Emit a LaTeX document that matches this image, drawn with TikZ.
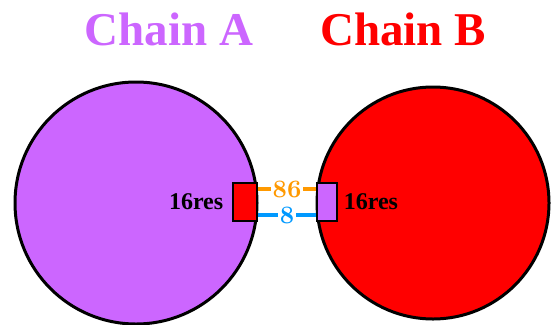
\documentclass[tikz,border=0pt]{standalone}
\usepackage{fontspec}
\newfontfamily\titlefont{Liberation Serif}
\usetikzlibrary{positioning}
\definecolor{chainpurple}{RGB}{204,102,255}
\definecolor{chainred}{RGB}{255,0,0}
\definecolor{bondorange}{RGB}{255,153,0}
\definecolor{bondblue}{RGB}{0,153,255}
% old style digits from the math italic font
\newcommand{\osnum}[1]{{\fontencoding{OML}\fontfamily{cmm}\fontseries{b}\fontshape{it}\selectfont #1}}

\begin{document}
\begin{tikzpicture}[x=1pt, y=-1pt,
    chain/.style={circle, draw=black, line width=3pt, inner sep=0pt},
    site/.style={draw=black, line width=2.5pt, minimum height=38pt, inner sep=0pt},
    bond/.style={line width=4pt},
    bondlabel/.style={fill=white, inner sep=2pt, font=\bfseries\fontsize{23}{24}\selectfont},
    reslabel/.style={font=\titlefont\bfseries\fontsize{24}{26}\selectfont},
    title/.style={anchor=base, font=\titlefont\bfseries\fontsize{47}{50}\selectfont}]
  \useasboundingbox (0,0) rectangle (553,324);
  % the two chains
  \node[chain, fill=chainpurple, minimum size=242pt] (chainA) at (136,203) {};
  \node[chain, fill=chainred, minimum size=232pt] (chainB) at (433,203) {};
  \node[title, text=chainpurple] (titleA) at (169,45) {Chain A};
  \node[title, text=chainred] (titleB) at (403,45) {Chain B};
  % contact sites
  \node[site, fill=chainred, minimum width=24pt] (siteA) at (245,202) {};
  \node[site, fill=chainpurple, minimum width=20pt] (siteB) at (327,202) {};
  \node[reslabel, left=5pt of siteA] (resA) {16res};
  \node[reslabel, right=2pt of siteB] (resB) {16res};
  % bonds between the sites
  \draw[bond, bondorange] ([yshift=13pt]siteA.east) -- node[bondlabel, text=bondorange] (orangeLbl) {\osnum{86}} ([yshift=13pt]siteB.west);
  \draw[bond, bondblue] ([yshift=-13pt]siteA.east) -- node[bondlabel, text=bondblue] (blueLbl) {\osnum{8}} ([yshift=-13pt]siteB.west);
\end{tikzpicture}
\end{document}
